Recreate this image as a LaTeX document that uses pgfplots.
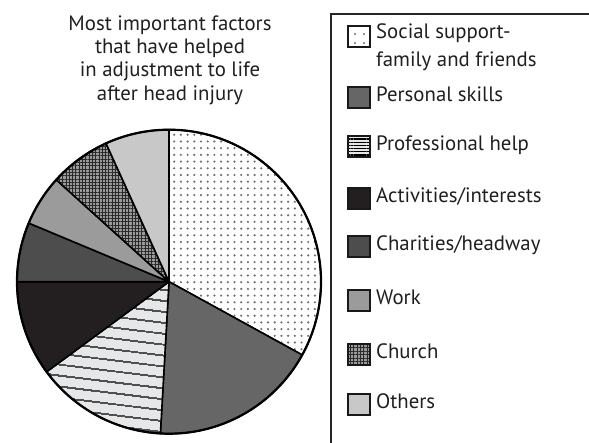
\documentclass[border=0pt]{standalone}
\usepackage{pgfplots}
\pgfplotsset{compat=1.18}
\usepackage{pgfplotstable}
\usetikzlibrary{patterns.meta}
\usepackage{fontspec}
\setmainfont{PT Sans}
\definecolor{cpers}{HTML}{666666}
\definecolor{cact}{HTML}{231F20}
\definecolor{cchar}{HTML}{4D4D4D}
\definecolor{cwork}{HTML}{9B9B9B}
\definecolor{coth}{HTML}{C8C8C8}
\definecolor{cprof}{HTML}{E6E7E8}
\definecolor{cchur}{HTML}{9A9A9A}
\definecolor{cgrid}{HTML}{2A2A2A}
\definecolor{cdot}{HTML}{6E6E6E}

\pgfplotstableread{
label value
Social 33.0
Personal 17.9
Professional 14.0
Activities 10.1
Charities 6.3
Work 5.4
Church 6.5
Others 6.8
}\piedata

\tikzset{
  slice0/.style={preaction={fill=white}, pattern={Dots[distance=6.7bp, radius=1.2bp]}, pattern color=cdot},
  slice1/.style={fill=cpers},
  slice2/.style={preaction={fill=cprof}, pattern={Lines[angle=-7, distance=10bp, line width=1.3bp]}, pattern color=black},
  slice3/.style={fill=cact},
  slice4/.style={fill=cchar},
  slice5/.style={fill=cwork},
  slice6/.style={preaction={fill=cchur}, pattern={Hatch[angle=0, distance=3.3bp, line width=0.9bp]}, pattern color=cgrid},
  slice7/.style={fill=coth},
  leg0/.style={preaction={fill=white}, pattern={Dots[distance=9bp, radius=1.1bp, xshift=4bp, yshift=4bp]}, pattern color=cdot},
  leg2/.style={preaction={fill=cprof}, pattern={Lines[angle=0, distance=3.2bp, line width=1.1bp]}, pattern color=black},
  leg6/.style={preaction={fill=cchur}, pattern={Hatch[angle=0, distance=3.4bp, line width=0.9bp]}, pattern color=cgrid},
}

\begin{document}
\begin{tikzpicture}
\useasboundingbox (0,0) rectangle (589bp,-443bp);
\clip (0,0) rectangle (589bp,-443bp);
\fontsize{20.8bp}{23.3bp}\selectfont
% cumulative angles from the data
\xdef\cum{90}
\foreach \i in {0,...,7}{
  \pgfplotstablegetelem{\i}{value}\of\piedata
  \pgfmathsetmacro\b{\cum-3.6*\pgfplotsretval}
  \expandafter\xdef\csname sa\i\endcsname{\cum}
  \expandafter\xdef\csname sb\i\endcsname{\b}
  \xdef\cum{\b}
}
\begin{axis}[
  at={(169bp,-281.7bp)}, anchor=center,
  scale only axis, width=304bp, height=304bp,
  xmin=-1, xmax=1, ymin=-1, ymax=1,
  hide axis, clip=false]
\pgfplotsinvokeforeach{0,...,7}{
  \draw[line width=1.6bp, line join=round, slice#1]
    (axis cs:0,0) -- ({cos(\csname sa#1\endcsname)},{sin(\csname sa#1\endcsname)})
    arc[start angle=\csname sa#1\endcsname, end angle=\csname sb#1\endcsname, radius=152bp] -- cycle;
}
\draw[line width=2.2bp] (axis cs:0,0) circle[radius=152bp];
\end{axis}

% title
\node[align=center, text=black!88, inner sep=0pt] at (170bp,-60bp)
  {Most important factors\\that have helped\\in adjustment to life\\after head injury};

% legend frame
\draw[line width=1.5bp, black!85] (331bp,-500bp) -- (331bp,-14bp) -- (650bp,-14bp);

% legend entries
\foreach \y/\s [count=\k from 0] in {36/leg0, 97/slice1, 146/leg2, 198/slice3, 246/slice4, 300/slice5, 354/leg6, 404/slice7}{
  \draw[line width=2bp, black!90, \s] (348bp,-\y bp+10.5bp) rectangle ++(22bp,-21bp);
}
\foreach \y/\t in {34/{Social support-}, 62/{family and friends}, 97/{Personal skills}, 146/{Professional help}, 198/{Activities/interests}, 246/{Charities/headway}, 300/{Work}, 354/{Church}, 404/{Others}}{
  \node[anchor=west, inner sep=0pt, text=black!88] at (376bp,-\y bp) {\strut\t};
}
\end{tikzpicture}
\end{document}
